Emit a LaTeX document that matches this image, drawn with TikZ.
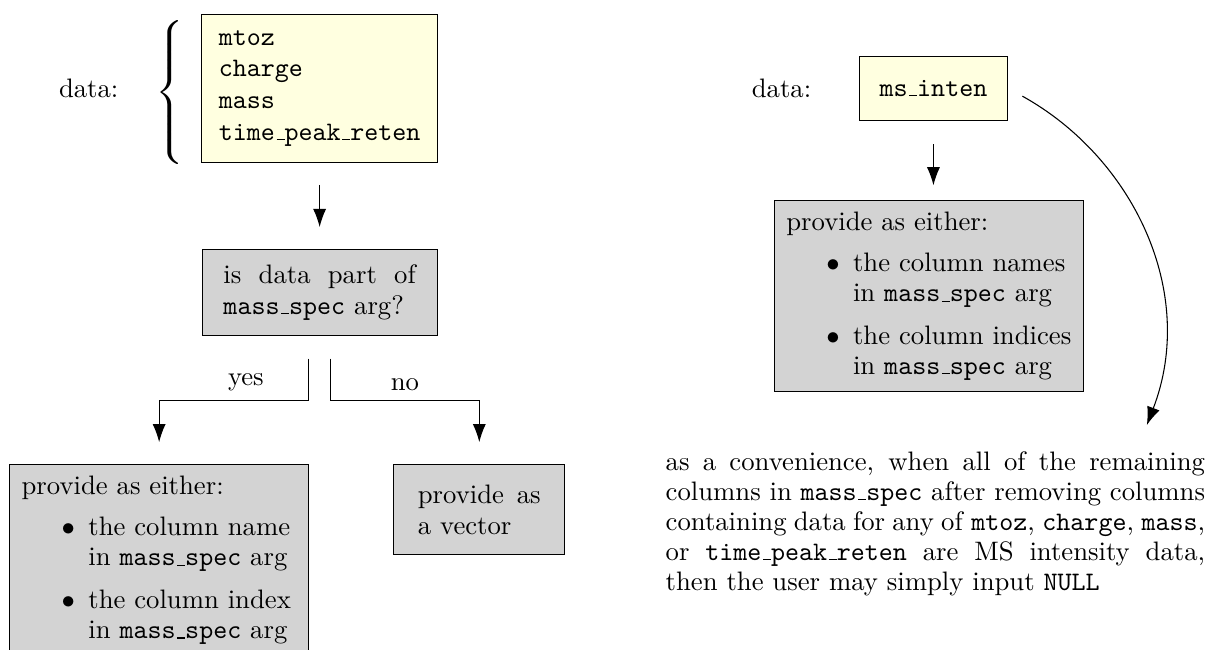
\documentclass[tikz,border=0pt]{standalone}
\usepackage{tikz}
\usetikzlibrary{arrows.meta,positioning}
\definecolor{datayellow}{RGB}{255,255,224}
\definecolor{choicegray}{RGB}{211,211,211}
\setlength{\parindent}{0pt}
\makeatletter
\def\@listi{\leftmargin\leftmargini \parsep\z@ \topsep 4pt \partopsep\z@ \itemsep 4.6pt}
\let\@listI\@listi
\makeatother
\renewcommand{\labelitemi}{$\bullet$}
\newcommand{\uscr}{\leavevmode\kern.06em\vbox{\hrule width.3em}}
\newcommand{\code}[1]{\texttt{#1}}

\begin{document}
\begin{tikzpicture}[
  font=\fontsize{10}{11.5}\selectfont,
  box/.style={draw, line width=0.4pt, inner sep=0pt},
  databox/.style={box, fill=datayellow, font=\ttfamily\fontsize{10}{11.9}\selectfont},
  choicebox/.style={box, fill=choicegray},
  listbox/.style={choicebox, inner sep=4.4pt, font=\fontsize{10}{11.3}\selectfont},
  arr/.style={-{Latex[length=6.8pt,width=4.9pt]}, line width=0.4pt, shorten <=8.3pt, shorten >=8.2pt}
]
\useasboundingbox (0,0) rectangle (452.4pt,-243.1pt);

% several data columns
\node[databox, align=left, inner xsep=6.5pt, inner ysep=5.9pt] (dtypes) at (119.7pt,-33.1pt)
  {mtoz\\charge\\mass\\time\uscr peak\uscr reten};
\node[inner sep=0pt, xscale=1.2, transform shape, left=4.8pt of dtypes, yshift=-1.7pt] (brace)
  {$\left\{\vcenter{\hrule height 54pt width 0pt}\right.$};
\node[left=27.4pt of dtypes] (lbl1) {data:};

\node[choicebox, align=justify, text width=72pt, inner xsep=8pt, inner ysep=5.8pt, below=32.3pt of dtypes] (ispart)
  {is data part of \code{mass\uscr spec} arg?};
\draw[arr] (dtypes) -- (ispart);

\node[listbox, text width=103pt, below=47.8pt of ispart, xshift=-60.1pt] (either) {\raggedright provide as either:
  \begin{itemize}
    \item the column name in \code{mass\uscr spec} arg
    \item the column index in \code{mass\uscr spec} arg
  \end{itemize}};
\node[choicebox, align=justify, text width=46pt, inner xsep=9pt, inner ysep=7.6pt, below=47.8pt of ispart, xshift=59.8pt] (vector)
  {provide as a vector};

\draw[arr] ([xshift=-4.1pt]ispart.south) -- ++(0,-24pt) -| node[pos=0.21, above] {yes} (either.north);
\draw[arr] ([xshift=4.1pt]ispart.south) -- ++(0,-24pt) -| node[pos=0.25, above] {no} (vector.north);

% intensity data
\node[databox, minimum width=55.7pt, minimum height=24pt, right=157.4pt of dtypes] (intens) {ms\uscr inten};
\node[left=14.2pt of intens] (lbl2) {data:};

\node[listbox, text width=107pt, inner xsep=4.3pt, below=29.5pt of intens, xshift=-1.6pt] (asnames) {\raggedright provide as either:
  \begin{itemize}
    \item the column names in \code{mass\uscr spec} arg
    \item the column indices in \code{mass\uscr spec} arg
  \end{itemize}};
\draw[arr, shorten <=8.8pt, shorten >=5.4pt] (intens.south) -- (intens.south |- asnames.north);

\node[align=justify, text width=202pt, inner sep=0pt, anchor=north west, font=\fontsize{10}{11.25}\selectfont] (note) at (249.1pt,-168.8pt)
  {as a convenience, when all of the remaining columns in \code{mass\uscr spec} after removing columns containing data for any of \code{mtoz}, \code{charge}, \code{mass}, or \code{time\uscr peak\uscr reten} are MS intensity data, then the user may simply input \code{NULL}};
\coordinate (notetip) at ([xshift=-22pt, yshift=9.6pt]note.north east);
\draw[arr, shorten <=6pt, shorten >=0pt] (intens.east) to[out=-29, in=69] (notetip);
\end{tikzpicture}
\end{document}
